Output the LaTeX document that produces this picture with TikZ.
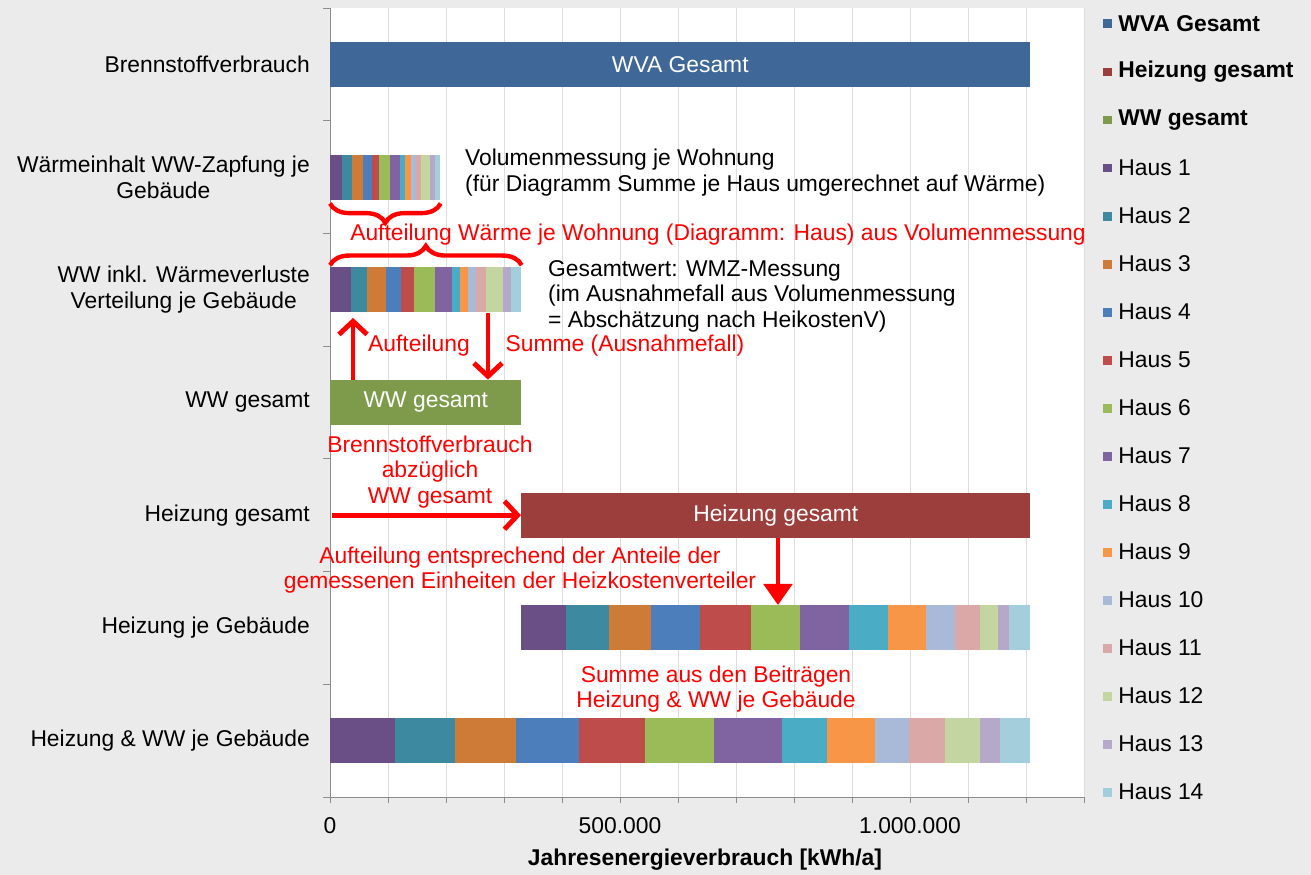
\documentclass[tikz,border=0pt]{standalone}
\usepackage{fontspec}
\setmainfont{Liberation Sans}
\usetikzlibrary{arrows.meta,decorations.pathreplacing}

\definecolor{bgray}{HTML}{EBEBEB}
\definecolor{gridgray}{HTML}{DDDDDD}
\definecolor{axisgray}{HTML}{8C8C8C}
\definecolor{wva}{HTML}{3F6797}
\definecolor{heiz}{HTML}{9C3E3C}
\definecolor{wwg}{HTML}{7E9B4B}
\definecolor{h1}{HTML}{6A4F87}
\definecolor{h2}{HTML}{3D89A0}
\definecolor{h3}{HTML}{CE7B37}
\definecolor{h4}{HTML}{4C7EBC}
\definecolor{h5}{HTML}{BD4C4A}
\definecolor{h6}{HTML}{9BBB59}
\definecolor{h7}{HTML}{8064A2}
\definecolor{h8}{HTML}{4BACC6}
\definecolor{h9}{HTML}{F79646}
\definecolor{h10}{HTML}{A9B9D8}
\definecolor{h11}{HTML}{D9A8A7}
\definecolor{h12}{HTML}{C3D5A0}
\definecolor{h13}{HTML}{B5A8C9}
\definecolor{h14}{HTML}{A5CEDC}

\tikzset{
	bar/.style={rectangle, inner sep=0pt, minimum height=0.9cm, anchor=west, text=white},
	catlabel/.style={anchor=east, align=center},
	redtext/.style={text=red, align=center},
	blacktext/.style={anchor=west, align=left},
	redarrow/.style={draw=red, line width=2.8pt, -{Straight Barb[length=7.5pt,width=16pt]}},
	redbrace/.style={draw=red, line width=2.5pt, decorate, decoration={brace, amplitude=11pt}},
	legbox/.style={rectangle, inner sep=0pt, minimum size=0.18cm},
}

\begin{document}
\begin{tikzpicture}[x=0.02cm, y=-0.02cm, font=\fontsize{13}{14.5}\selectfont]
		\useasboundingbox (0,0) rectangle (1311,875);
		\fill[bgray] (0,0) rectangle (1311,875);
		\fill[white] (330,8) rectangle (1085,797);
		\foreach \k in {1,...,13}
			\draw[gridgray] (330+58*\k,8) -- (330+58*\k,797);
		\draw[axisgray] (330,8) -- (330,797) -- (1084,797);
		\foreach \k in {0,...,13}
			\draw[axisgray] (330+58*\k,797) -- (330+58*\k,803);
		\foreach \k in {0,...,7}
			\draw[axisgray] (323,8+112.7*\k) -- (330,8+112.7*\k);

		\foreach \a/\b/\col in {330/342/h1, 342/352/h2, 352/363/h3, 363/372/h4, 372/379/h5, 379/390/h6, 390/400/h7, 400/405/h8, 405/411/h9, 411/416/h10, 416/421/h11, 421/430/h12, 430/435/h13, 435/440/h14}
			\fill[\col] (\a,154.6) rectangle (\b,199.6);
		\foreach \a/\b/\col in {330/351/h1, 351/367/h2, 367/386/h3, 386/401/h4, 401/414/h5, 414/435/h6, 435/452/h7, 452/460/h8, 460/468/h9, 468/476/h10, 476/486/h11, 486/503/h12, 503/511/h13, 511/521/h14}
			\fill[\col] (\a,267.3) rectangle (\b,312.3);
		\foreach \a/\b/\col in {521/566/h1, 566/609/h2, 609/651/h3, 651/700/h4, 700/751/h5, 751/800/h6, 800/849/h7, 849/888/h8, 888/926/h9, 926/955/h10, 955/980/h11, 980/998/h12, 998/1009/h13, 1009/1030/h14}
			\fill[\col] (\a,605.4) rectangle (\b,650.4);
		\foreach \a/\b/\col in {330/395/h1, 395/455/h2, 455/516/h3, 516/579/h4, 579/645/h5, 645/714/h6, 714/782/h7, 782/827/h8, 827/875/h9, 875/909/h10, 909/945/h11, 945/980/h12, 980/1000/h13, 1000/1030/h14}
			\fill[\col] (\a,718.1) rectangle (\b,763.1);

		\node[bar, fill=wva, minimum width=14cm] (wvab) at (330,64.4) {WVA Gesamt};
		\node[bar, minimum width=2.2cm] (wwz) at (330,177.1) {};
		\node[bar, minimum width=3.82cm] (wwinkl) at (330,289.8) {};
		\node[bar, fill=wwg, minimum width=3.82cm] (wwgb) at (330,402.5) {WW gesamt};
		\node[bar, fill=heiz, minimum width=10.18cm] (heizb) at (521,515.2) {Heizung gesamt};
		\node[bar, minimum width=10.18cm] (heizje) at (521,627.9) {};
		\node[bar, minimum width=14cm] (summe) at (330,740.6) {};

		\node[catlabel] (c1) at (316,64.4) {Brennstoffverbrauch};
		\node[catlabel] (c2) at (316,177.1) {Wärmeinhalt WW-Zapfung je\\Gebäude};
		\node[catlabel] (c3) at (316,289.8) {WW inkl. Wärmeverluste\\Verteilung je Gebäude};
		\node[catlabel] (c4) at (316,402.5) {WW gesamt};
		\node[catlabel] (c5) at (316,515.2) {Heizung gesamt};
		\node[catlabel] (c6) at (316,627.9) {Heizung je Gebäude};
		\node[catlabel] (c7) at (316,740.6) {Heizung \& WW je Gebäude};

		\node (t0) at (330,826) {0};
		\node (t1) at (620,826) {500.000};
		\node (t2) at (910,826) {1.000.000};
		\node[font=\fontsize{13}{14.5}\selectfont\bfseries] (xlab) at (705,860) {Jahresenergieverbrauch [kWh/a]};

		\node[blacktext] (vol) at (459,172.5) {Volumenmessung je Wohnung\\(für Diagramm Summe je Haus umgerechnet auf Wärme)};
		\node[blacktext] (wmz) at (542,296) {Gesamtwert: WMZ-Messung\\(im Ausnahmefall aus Volumenmessung\\= Abschätzung nach HeikostenV)};

		\draw[redbrace] ([yshift=-2pt]wwz.south east) -- ([yshift=-2pt]wwz.south west);
		\draw[redbrace] ([yshift=1pt]wwinkl.north west) -- ([yshift=1pt]wwinkl.north east);
		\node[redtext] (r1) at (718,235) {Aufteilung Wärme je Wohnung (Diagramm: Haus) aus Volumenmessung};
		\draw[redarrow] ([xshift=0.46cm]wwgb.north west) -- ([xshift=0.46cm, yshift=-3pt]wwinkl.south west);
		\draw[redarrow] ([xshift=3.16cm]wwinkl.south west) -- ([xshift=3.16cm]wwgb.north west);
		\node[redtext] (r2) at (419,346) {Aufteilung};
		\node[redtext] (r3) at (625,346) {Summe (Ausnahmefall)};
		\node[redtext] (r4) at (430,472) {Brennstoffverbrauch\\abzüglich\\WW gesamt};
		\coordinate (hstart) at (332,515.2);
		\draw[redarrow] (hstart) -- (heizb.west);
		\node[redtext] (r5) at (520,570) {Aufteilung entsprechend der Anteile der\\gemessenen Einheiten der Heizkostenverteiler};
		\draw[redarrow, -{Triangle[length=12pt,width=16pt]}] ([xshift=5.14cm]heizb.south west) -- ([xshift=5.14cm]heizje.north west);
		\node[redtext] (r6) at (716,689) {Summe aus den Beiträgen\\Heizung \& WW je Gebäude};

		\foreach \lab/\col [count=\i from 0] in {{\bfseries WVA Gesamt}/wva, {\bfseries Heizung gesamt}/heiz, {\bfseries WW gesamt}/wwg, Haus 1/h1, Haus 2/h2, Haus 3/h3, Haus 4/h4, Haus 5/h5, Haus 6/h6, Haus 7/h7, Haus 8/h8, Haus 9/h9, Haus 10/h10, Haus 11/h11, Haus 12/h12, Haus 13/h13, Haus 14/h14} {
			\node[legbox, fill=\col] (lb\i) at (1107.5,24+48*\i) {};
			\node[anchor=west, inner sep=0pt] (lt\i) at (1118,24+48*\i) {\lab};
		}
	\end{tikzpicture}
\end{document}
